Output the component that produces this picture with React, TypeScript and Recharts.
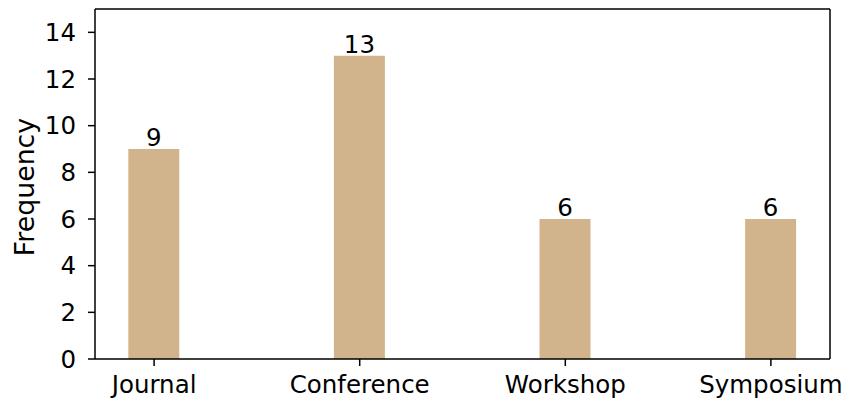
import { BarChart, Bar, XAxis, YAxis, LabelList, ReferenceLine } from "recharts";

const categories = ["Journal", "Conference", "Workshop", "Symposium"];
const frequency = [9, 13, 6, 6];
const yTicks = [0, 2, 4, 6, 8, 10, 12, 14];

const data = categories.map((name, i) => ({ pos: i, name, value: frequency[i] }));

const FONT = "DejaVu Sans";
const FS = 24.5;
const tickStyle = { fontFamily: FONT, fontSize: FS, fill: "#000" };

export default function App() {
  return (
    <div style={{ position: "absolute", left: 0, top: 0, background: "#fff" }}>
      <BarChart
        width={846}
        height={405}
        data={data}
        margin={{ top: 9, right: 16, bottom: 0, left: 0 }}
      >
        <XAxis
          dataKey="pos"
          type="number"
          domain={[-0.2875, 3.2875]}
          ticks={[0, 1, 2, 3]}
          allowDataOverflow
          tickFormatter={(v) => categories[v]}
          height={46}
          tickSize={7}
          tickMargin={10}
          axisLine={{ stroke: "#000", strokeWidth: 1.5 }}
          tickLine={{ stroke: "#000", strokeWidth: 1.5 }}
          tick={tickStyle}
          interval={0}
        />
        <YAxis
          domain={[0, 15]}
          ticks={yTicks}
          width={95}
          tickSize={7}
          tickMargin={12}
          allowDataOverflow
          axisLine={{ stroke: "#000", strokeWidth: 1.5 }}
          tickLine={{ stroke: "#000", strokeWidth: 1.5 }}
          tick={tickStyle}
          label={{
            value: "Frequency",
            angle: -90,
            position: "insideLeft",
            offset: 24,
            dy: 3,
            style: { fontFamily: FONT, fontSize: 26.8, fill: "#000", textAnchor: "middle" },
          }}
        />
        <ReferenceLine y={15} stroke="#000" strokeWidth={1.5} ifOverflow="extendDomain" />
        <ReferenceLine x={3.2875} stroke="#000" strokeWidth={1.5} ifOverflow="extendDomain" />
        <Bar dataKey="value" fill="#D2B48C" barSize={51} isAnimationActive={false}>
          <LabelList
            dataKey="value"
            position="top"
            offset={3}
            style={{ fontFamily: FONT, fontSize: FS, fill: "#000" }}
          />
        </Bar>
      </BarChart>
    </div>
  );
}
